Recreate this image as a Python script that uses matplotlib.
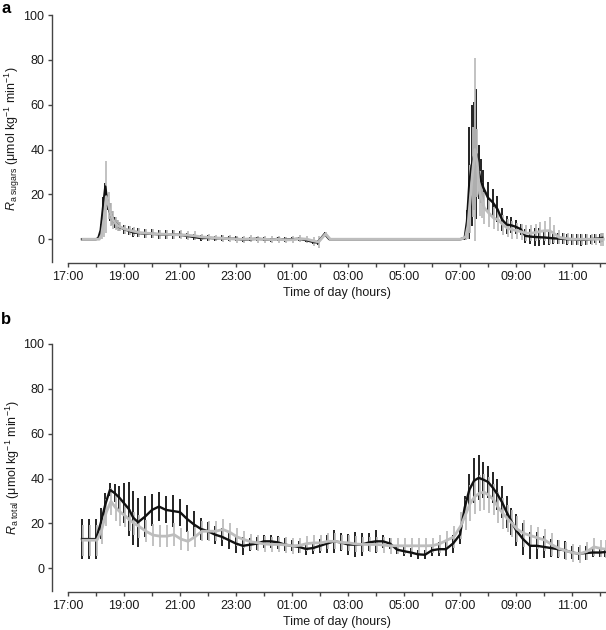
import matplotlib

matplotlib.use("Agg")
import matplotlib.pyplot as plt

BLACK = "#111111"
GREY = "#BDBDBD"
TEXT = "#1A1A1A"

# panel a: rate of appearance of ingested sugars
TIMES_A = [
    "17:30", "17:45", "18:00", "18:05", "18:10", "18:15", "18:20", "18:25", "18:30",
    "18:35", "18:40", "18:45", "18:50", "19:00", "19:10", "19:20", "19:30", "19:45",
    "20:00", "20:15", "20:30", "20:45", "21:00", "21:15", "21:30", "21:45", "22:00",
    "22:15", "22:30", "22:45", "23:00", "23:15", "23:30", "23:45", "00:00", "00:15",
    "00:30", "00:45", "01:00", "01:15", "01:30", "01:45", "01:55", "02:10", "02:20",
    "07:00", "07:10", "07:15", "07:20", "07:25", "07:30", "07:35", "07:40", "07:45",
    "07:50", "08:00", "08:10", "08:20", "08:30", "08:40", "08:50", "09:00", "09:10",
    "09:20", "09:30", "09:40", "09:50", "10:00", "10:10", "10:20", "10:30", "10:40",
    "10:50", "11:00", "11:10", "11:20", "11:30", "11:40", "11:50", "12:00", "12:05",
]
SUGARS_BLACK = [
    0, 0, 0, 0.5, 4, 14, 23.5, 15, 12,
    9.5, 7.5, 6.5, 5.5, 4.5, 3.8, 3, 2.8, 2.5,
    2.4, 2.2, 2.1, 2, 2, 1.5, 1, 0.5, 0.6,
    0.4, 0.5, 0.2, 0.2, -0.2, 0, 0.2, 0, -0.3,
    0.2, -0.2, 0, 0.2, -0.4, -1.2, -1.5, 2.4, 0,
    0, 0.5, 8, 25, 33, 37, 38, 30, 26,
    23, 18.5, 16.5, 13.5, 8.8, 6.5, 6.2, 5.5, 4.5,
    1.5, 1.2, 1, 0.9, 0.8, 0.6, 0.4, 0.3, 0.2,
    0, 0, -0.2, -0.3, -0.2, 0, 0.2, 0.4, 0.6,
]
SUGARS_BLACK_ERR = [
    0, 0, 0, 0.5, 3, 5, 1.5, 2, 4,
    3, 2.5, 2, 2, 2, 2, 2, 2, 2,
    2, 2, 2, 2, 1.5, 1.5, 1.2, 1.2, 1.2,
    1.2, 1.2, 1.2, 1.2, 1, 1, 1, 1, 1,
    1, 1, 1, 1, 1, 1, 1, 1, 0,
    0, 1, 5, 25, 27, 24, 29, 12, 10,
    8, 7, 6, 6, 5, 4, 3.5, 3, 2.5,
    3, 3.5, 4, 4, 3.5, 3, 2.5, 2.5, 2.5,
    2.5, 2.5, 2.5, 2.5, 2.5, 2, 2, 2, 2,
]
SUGARS_GREY = [
    0, 0, 0, 0, 2, 9, 19, 15, 11,
    8.5, 7, 6, 5.5, 4.5, 4, 3.5, 3, 2.7,
    2.5, 2.3, 2.2, 2, 2, 1.8, 1.5, 1, 0.8,
    0.6, 0.4, 0.2, 0, 0, 0.2, 0, 0, -0.2,
    0, -0.3, -0.2, 0.3, 0, -0.8, -1.2, 2.4, 0,
    0, 1, 6, 18, 30, 40, 34, 20.5, 17.5,
    14, 11.6, 9.5, 8.6, 6.5, 4.9, 4.3, 3.8, 3.3,
    2.7, 2.7, 3, 3.5, 3.8, 3.8, 2.5, 0.9, 0.5,
    0.2, 0, 0, 0, 0, 0, 0, 0, 0,
]
SUGARS_GREY_ERR = [
    0, 0, 0, 0, 2, 8, 16, 6, 5,
    4, 3, 2.5, 2, 2, 2, 2, 2, 2,
    2, 2, 2, 2, 2, 2, 2, 1.5, 1.5,
    1.5, 1.5, 1.5, 1.5, 1.5, 1.5, 1.5, 1.5, 1.5,
    1.5, 1.5, 1.5, 1.5, 1.5, 2, 2.5, 1, 0,
    0, 1.5, 6, 15, 20, 41, 15, 10, 8,
    7, 6, 5, 5, 4.5, 4, 4, 3.5, 3.5,
    3.5, 3.5, 4, 4, 4.5, 6, 4, 3, 2.5,
    2.5, 2.5, 2.5, 2.5, 2.5, 2.5, 2.5, 3, 3,
]

# panel b: total rate of appearance
TIMES_B = [
    "17:30", "17:45", "18:00", "18:10", "18:20", "18:30", "18:40", "18:50", "19:00",
    "19:10", "19:20", "19:30", "19:45", "20:00", "20:15", "20:30", "20:45", "21:00",
    "21:15", "21:30", "21:45", "22:00", "22:15", "22:30", "22:45", "23:00", "23:15",
    "23:30", "23:45", "00:00", "00:15", "00:30", "00:45", "01:00", "01:15", "01:30",
    "01:45", "02:00", "02:15", "02:30", "02:45", "03:00", "03:15", "03:30", "03:45",
    "04:00", "04:15", "04:30", "04:45", "05:00", "05:15", "05:30", "05:45", "06:00",
    "06:15", "06:30", "06:45", "07:00", "07:10", "07:20", "07:30", "07:40", "07:50",
    "08:00", "08:10", "08:20", "08:30", "08:40", "08:50", "09:00", "09:15", "09:30",
    "09:45", "10:00", "10:15", "10:30", "10:45", "11:00", "11:15", "11:30", "11:45",
    "12:00", "12:10",
]
TOTAL_BLACK = [
    13, 13, 13, 20, 28.5, 35, 33.5, 31.5, 29,
    26.5, 22.5, 20.5, 23, 26, 27.5, 26, 25.5, 25,
    22, 19.5, 17.5, 16.5, 15, 14, 12.5, 11, 10,
    10.5, 11, 12, 12, 11.5, 10.5, 10, 9.5, 8.6,
    9, 10, 11, 12, 11.5, 10.6, 10.5, 10.6, 11.5,
    12, 12, 11, 8.3, 7.6, 7, 6.2, 6, 8,
    8.5, 8.5, 11, 15, 27, 35, 39, 40.3, 39.5,
    38.5, 36, 33, 29.5, 25, 21, 17, 13, 10,
    10, 9.5, 9, 8.5, 8, 7, 6.5, 6.8, 7,
    7, 7.2,
]
TOTAL_BLACK_ERR = [
    9, 9, 9, 7, 5, 3, 4, 5, 9,
    12, 12, 11, 9, 7, 6.5, 6, 7, 6,
    6, 6, 5, 4, 4, 4, 4, 4, 4,
    3, 3, 3, 3, 3, 3, 2.5, 2.5, 2.5,
    2.5, 3, 4, 5, 4, 4.5, 5.5, 5, 4,
    5, 3, 2.5, 2, 2, 2, 2, 2, 2.5,
    3, 3, 4, 4, 5, 7, 10, 10, 8,
    7, 7, 7, 7, 7, 6, 7, 7, 6,
    6, 5, 4, 4, 4, 3, 3, 3, 2,
    2, 2,
]
TOTAL_GREY = [
    12.5, 12.5, 12.5, 17, 25, 29.8, 27, 25, 23.5,
    21.5, 20, 18.7, 16.5, 14.8, 14.3, 14.3, 15, 13,
    12, 14, 16.5, 16.5, 16.5, 17.3, 16, 14, 12.8,
    11.8, 11.3, 10.8, 10.6, 10.6, 10.4, 10, 10.2, 11,
    11.3, 11.3, 12, 12, 11.5, 11.3, 10.8, 10.6, 10.6,
    10.6, 10.3, 10, 10, 10, 10, 10, 10, 10.1,
    11, 12.5, 14, 19, 24, 29, 32, 33.5, 33.9,
    32.5, 30.6, 27, 24.5, 22, 20, 17.5, 15.5, 14.5,
    13.5, 12.5, 10.5, 8.8, 7.8, 6.9, 6.5, 7.5, 9.5,
    8.8, 8.5,
]
TOTAL_GREY_ERR = [
    7, 7, 7, 6, 6, 6, 6, 6, 5,
    5, 5, 5, 5, 5, 5, 5, 5, 5,
    4.5, 4.5, 4.5, 4.5, 4.5, 4.5, 4, 4, 4,
    3.5, 3.5, 3.5, 3.5, 3.5, 3.5, 3.5, 3.5, 3.5,
    3.5, 3.5, 3.5, 3.5, 3.5, 3.5, 3.5, 3.5, 3.5,
    3.5, 3.5, 3.5, 3.5, 3.5, 3.5, 3.5, 3.5, 3.5,
    4, 4, 5, 6, 7, 8, 8, 8, 8,
    8, 7, 7, 7, 6, 6, 6, 6, 5,
    5, 5, 5, 4, 4, 4, 4, 4, 4,
    4, 4,
]

HOUR_TICKS = list(range(17, 37))


def to_hours(stamp: str) -> float:
    h, m = (int(p) for p in stamp.split(":"))
    if h < 17:
        h += 24
    return h + m / 60


def draw_panel(ax, times, black, black_err, grey, grey_err, ylabel):
    t = [to_hours(s) for s in times]
    tg = [v + 2 / 60 for v in t]  # nudge grey bars so both sets show
    ax.errorbar(t, black, yerr=black_err, fmt="none", ecolor=BLACK,
                elinewidth=1.3, capsize=0, zorder=2)
    ax.errorbar(tg, grey, yerr=grey_err, fmt="none", ecolor=GREY,
                elinewidth=1.3, capsize=0, zorder=2.1)
    ax.plot(t, black, color=BLACK, linewidth=1.7, zorder=3)
    ax.plot(tg, grey, color=GREY, linewidth=2.0, zorder=3.1)

    ax.set_xlim(17 - 16 / 28, 17 + 538 / 28)
    ax.set_ylim(-10.6, 100)
    ax.set_yticks([0, 20, 40, 60, 80, 100])
    ax.set_xticks(HOUR_TICKS)
    ax.set_xticklabels(
        [f"{h % 24:02d}:00" if (h - 17) % 2 == 0 else "" for h in HOUR_TICKS]
    )
    ax.spines[["top", "right"]].set_visible(False)
    ax.spines["left"].set_bounds(-10, 100)
    ax.spines["bottom"].set_bounds(17, 17 + 538 / 28)
    for side in ("left", "bottom"):
        ax.spines[side].set_color("#444444")
        ax.spines[side].set_linewidth(1.0)
    ax.tick_params(axis="both", direction="out", length=3, width=1.0,
                   color="#444444", labelsize=9, labelcolor=TEXT, pad=3)
    ax.tick_params(axis="y", pad=2.5)
    ax.set_ylabel(ylabel, fontsize=9, color=TEXT)
    ax.yaxis.set_label_coords(-0.054, 0.5)
    ax.set_xlabel("Time of day (hours)", fontsize=9, color=TEXT)
    ax.xaxis.set_label_coords(0.515, -0.095)


def main() -> None:
    plt.rcParams.update(
        {
            "font.family": ["Liberation Sans", "DejaVu Sans"],
            "mathtext.fontset": "custom",
            "mathtext.rm": "Liberation Sans",
            "mathtext.it": "Liberation Sans:italic",
        }
    )
    fig = plt.figure(figsize=(6.06, 6.30), dpi=100)
    ax_a = fig.add_axes([52 / 606, 367 / 630, 554 / 606, 248 / 630])
    ax_b = fig.add_axes([52 / 606, 38 / 630, 554 / 606, 248 / 630])

    draw_panel(ax_a, TIMES_A, SUGARS_BLACK, SUGARS_BLACK_ERR, SUGARS_GREY,
               SUGARS_GREY_ERR,
               r"$R_{\mathrm{a\ sugars}}$ (μmol kg$^{-1}$ min$^{-1}$)")
    draw_panel(ax_b, TIMES_B, TOTAL_BLACK, TOTAL_BLACK_ERR, TOTAL_GREY,
               TOTAL_GREY_ERR,
               r"$R_{\mathrm{a\ total}}$ (μmol kg$^{-1}$ min$^{-1}$)")

    fig.text(0.002, 0.998, "a", fontsize=12, fontweight="bold", va="top", ha="left")
    fig.text(0.002, 0.505, "b", fontsize=12, fontweight="bold", va="top", ha="left")

    fig.savefig("out.png", dpi=100)


if __name__ == "__main__":
    main()
